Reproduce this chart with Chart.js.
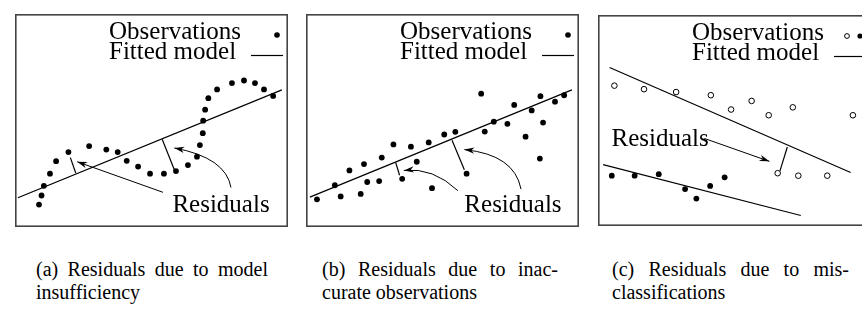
<!DOCTYPE html>
<html>
<head>
<meta charset="utf-8">
<script src="https://cdn.jsdelivr.net/npm/chart.js@4/dist/chart.umd.min.js"></script>
<style>
  body { margin: 0; width: 862px; height: 320px; overflow: hidden; background: #fff; position: relative; }
  .panel { position: absolute; top: 10px; width: 281px; height: 221px; }
  .caption { position: absolute; top: 258px; font-family: 'Liberation Serif'; font-size: 20px; line-height: 23px; color: #000; }
  .caption .j { text-align: justify; text-align-last: justify; }
</style>
</head>
<body>
<div class="panel" style="left:11px"><canvas id="panelA" width="281" height="221"></canvas></div>
<div class="panel" style="left:302px"><canvas id="panelB" width="281" height="221"></canvas></div>
<div class="panel" style="left:593px"><canvas id="panelC" width="281" height="221"></canvas></div>

<div class="caption" style="left:36px;width:232px"><div class="j">(a) Residuals due to model</div><div>insufficiency</div></div>
<div class="caption" style="left:322px;width:236px"><div class="j">(b) Residuals due to inac-</div><div>curate observations</div></div>
<div class="caption" style="left:612px;width:237px"><div class="j">(c) Residuals due to mis-</div><div>classifications</div></div>

<script>
// --- Panel (a): curved trend, straight-line fit ---
const obsA = [
  [24.7, 23.3], [27.3, 32.7], [29.7, 42.7], [36, 55.3], [42.3, 68.3], [55, 77.7],
  [76.3, 84], [94, 80.3], [105.7, 77.7], [115, 68.7], [126.7, 62.7], [139, 55.3],
  [153.3, 55.3], [165.7, 58], [178, 64.3], [187.3, 73], [190.3, 85], [193.3, 97.3],
  [193.7, 110.3], [195.7, 121.7], [199, 133.7], [208, 142.7], [223.3, 149.3],
  [235.7, 152], [247, 149.3], [256.3, 142.7], [265.7, 136]
];
const fitA = [[[3, 30.3], [274.7, 142.3]]];
const residA = [[[57, 72], [62.5, 56]], [[164, 59.5], [151.5, 91]]];
const arrowsA = [
  { from: [152.3, 36], to: [64, 67.7] },
  { from: [222.3, 41], to: [164, 82], bend: [217, 72] }
];
const labelA = [162, 16];

// --- Panel (b): noisy observations around a line ---
const obsB = [
  [11.3, 28.7], [29.7, 43.3], [35.7, 31.7], [44.7, 58.7], [56.3, 34.3], [59.7, 65.3],
  [63, 46.7], [75.3, 47.7], [78, 72], [90, 85.7], [99, 50], [108, 83.3], [114, 67.7],
  [126.3, 87.7], [129.7, 40.3], [142.3, 96], [153.7, 98.7], [165.3, 55.3], [180.3, 138.3],
  [184, 99], [193.3, 109.3], [207.3, 107], [214.3, 126.7], [226, 93.7], [232.3, 121],
  [240.7, 71], [241.3, 135.7], [244, 108.3], [256.3, 130], [265.7, 136.7]
];
const fitB = [[[4, 31], [273.7, 142.3]]];
const residB = [[[92.3, 67], [96.3, 53.7]], [[150.3, 90], [163, 59.3]]];
const arrowsB = [
  { from: [156.3, 37.7], to: [100.7, 58.7], bend: [131, 62] },
  { from: [221.3, 39.3], to: [163, 80.3], bend: [214.7, 75] }
];
const labelB = [163, 16];

// --- Panel (c): two classes, one sample assigned to the wrong one ---
const obsC1 = [
  [17, 147], [47.7, 143.3], [81, 140.3], [117, 137], [138, 122], [159.3, 131],
  [177, 116], [202, 124.3], [264.3, 116], [186.3, 55.3], [207.7, 52.7], [237.7, 52.7]
];
const obsC2 = [
  [14.3, 52.7], [38, 52.7], [63, 54.3], [90.3, 38.7], [102, 28.7], [116.3, 42], [131.3, 51]
];
const fitC = [[[12, 166], [262, 56]], [[5.3, 64.3], [210.3, 11]]];
const residC = [[[196.3, 82.7], [188.7, 57.7]]];
const arrowsC = [{ from: [110.3, 91.7], to: [177.7, 67.7] }];
const labelC = [14, 84.3];

const XMAX = 281, YMAX = 221;
const FONT = '25px "Liberation Serif"';
const pts = arr => arr.map(p => ({ x: p[0], y: p[1] }));

// frame, arrows, "Residuals" label and the key in the top right corner
const decor = {
  id: 'decor',
  afterDatasetsDraw(chart, args, opts) {
    const { ctx, chartArea: a } = chart;
    const xs = chart.scales.x, ys = chart.scales.y;
    const px = p => [xs.getPixelForValue(p[0]), ys.getPixelForValue(p[1])];
    ctx.save();
    ctx.strokeStyle = '#000';
    ctx.fillStyle = '#000';
    ctx.lineWidth = 1;

    opts.arrows.forEach(ar => {
      const s = px(ar.from), t = px(ar.to);
      ctx.beginPath();
      ctx.moveTo(s[0], s[1]);
      let dir;
      if (ar.bend) {
        const c = px(ar.bend);
        ctx.quadraticCurveTo(c[0], c[1], t[0], t[1]);
        dir = Math.atan2(t[1] - c[1], t[0] - c[0]);
      } else {
        ctx.lineTo(t[0], t[1]);
        dir = Math.atan2(t[1] - s[1], t[0] - s[0]);
      }
      ctx.stroke();
      const len = 10, half = 3.2;
      ctx.beginPath();
      ctx.moveTo(t[0], t[1]);
      ctx.lineTo(t[0] - len * Math.cos(dir) + half * Math.sin(dir), t[1] - len * Math.sin(dir) - half * Math.cos(dir));
      ctx.lineTo(t[0] - len * 0.7 * Math.cos(dir), t[1] - len * 0.7 * Math.sin(dir));
      ctx.lineTo(t[0] - len * Math.cos(dir) - half * Math.sin(dir), t[1] - len * Math.sin(dir) + half * Math.cos(dir));
      ctx.closePath();
      ctx.fill();
    });

    ctx.font = FONT;
    ctx.textBaseline = 'alphabetic';
    const lp = px(opts.label);
    ctx.fillText('Residuals', lp[0], lp[1]);

    // key
    const kx = a.left + 94;
    ctx.fillText('Observations', kx, a.top + 25);
    ctx.fillText('Fitted model', kx, a.top + 45);
    if (opts.key === 'both') {
      ctx.beginPath();
      ctx.arc(a.left + 249, a.top + 21, 2.4, 0, Math.PI * 2);
      ctx.fillStyle = '#fff';
      ctx.fill();
      ctx.stroke();
      ctx.fillStyle = '#000';
      ctx.beginPath();
      ctx.arc(a.left + 262, a.top + 21, 2.6, 0, Math.PI * 2);
      ctx.fill();
    } else {
      ctx.beginPath();
      ctx.arc(a.left + 262, a.top + 21, 2.8, 0, Math.PI * 2);
      ctx.fill();
    }
    ctx.lineWidth = 1.2;
    ctx.beginPath();
    ctx.moveTo(a.left + 236, a.top + 41.5);
    ctx.lineTo(a.left + 268, a.top + 41.5);
    ctx.stroke();

    ctx.strokeStyle = '#444';
    ctx.lineWidth = 1.6;
    ctx.strokeRect(a.left + 0.8, a.top + 0.8, a.right - a.left - 1.6, a.bottom - a.top - 1.6);
    ctx.restore();
  }
};

function lineSets(segs, width) {
  return segs.map(seg => ({
    type: 'line',
    data: pts(seg),
    borderColor: '#000',
    borderWidth: width,
    pointRadius: 0,
    fill: false
  }));
}

function makePanel(id, obsSets, fits, resids, arrows, label, key) {
  new Chart(document.getElementById(id), {
    type: 'scatter',
    data: {
      datasets: [
        ...obsSets,
        ...lineSets(fits, 1.2),
        ...lineSets(resids, 1.2)
      ]
    },
    options: {
      responsive: false,
      animation: false,
      events: [],
      layout: { padding: 0 },
      plugins: {
        legend: { display: false },
        tooltip: { enabled: false },
        decor: { arrows, label, key }
      },
      scales: {
        x: { type: 'linear', min: 0, max: XMAX, display: false },
        y: { type: 'linear', min: 0, max: YMAX, display: false }
      }
    },
    plugins: [decor]
  });
}

const filled = data => ({
  data: pts(data), pointRadius: 2.9, pointBackgroundColor: '#000', pointBorderWidth: 0
});
const hollow = data => ({
  data: pts(data), pointRadius: 2.8, pointBackgroundColor: '#fff',
  pointBorderColor: '#000', pointBorderWidth: 1
});

makePanel('panelA', [filled(obsA)], fitA, residA, arrowsA, labelA, 'filled');
makePanel('panelB', [filled(obsB)], fitB, residB, arrowsB, labelB, 'filled');
makePanel('panelC', [hollow(obsC1), filled(obsC2)], fitC, residC, arrowsC, labelC, 'both');
</script>
</body>
</html>
